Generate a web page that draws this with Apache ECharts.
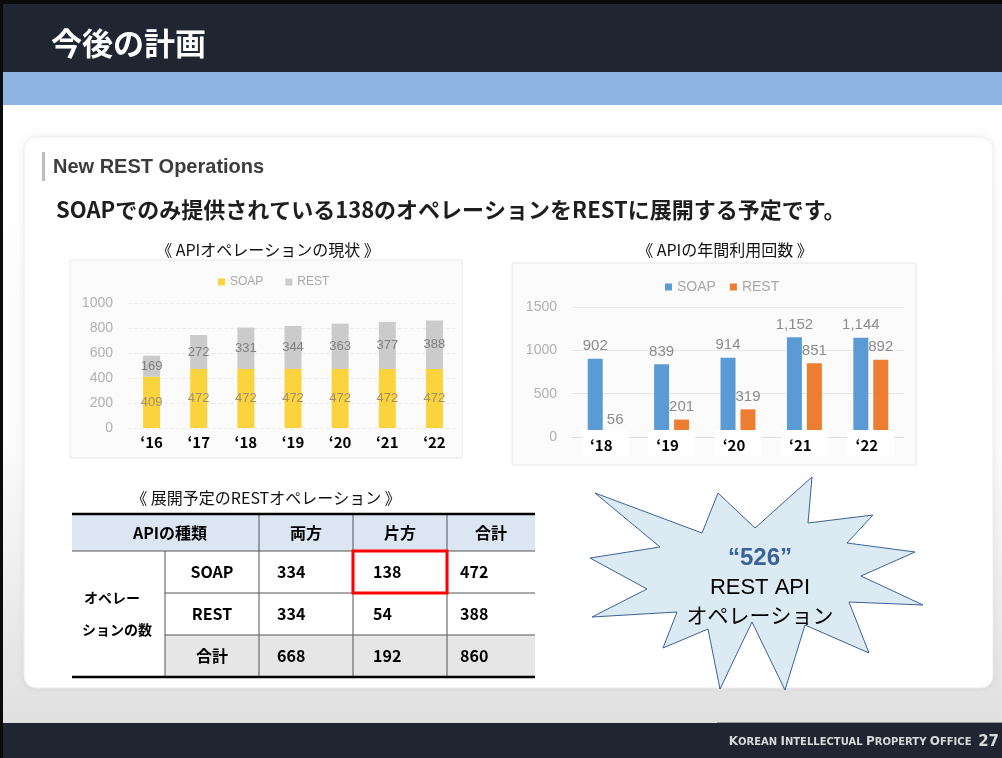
<!DOCTYPE html>
<html><head><meta charset="utf-8">
<script src="https://cdn.jsdelivr.net/npm/echarts@6/dist/echarts.min.js"></script>
<style>html,body{margin:0;padding:0;background:#fff}#c{width:1002px;height:758px}</style>
</head><body><div id="c"></div>
<script>
// ---- data ----
const categories1 = ['‘16','‘17','‘18','‘19','‘20','‘21','‘22'];
const soapOps = [409,472,472,472,472,472,472];
const restOps = [169,272,331,344,363,377,388];
const yTicks1 = {min:0, max:1000, interval:200};

const categories2 = ['‘18','‘19','‘20','‘21','‘22'];
const soapUse = [902,839,914,1152,1144];
const restUse = [56,201,319,851,892];
const yTicks2 = {min:0, max:1500, interval:500};

const tableHeader = ['APIの種類','両方','片方','合計'];
const tableRowLabels = ['SOAP','REST','合計'];
const colBoth = [334,334,668];
const colOne = [138,54,192];
const colTotal = [472,388,860];
const rowGroupLabel = ['オペレー','ションの数'];

const JP = '"Noto Sans CJK JP", "Noto Sans", sans-serif';
const AR = '"Liberation Sans", Arial, sans-serif';

const g = [];
function rect(x,y,w,h,style,z){ g.push({type:'rect', z: z, shape:{x:x,y:y,width:w,height:h}, style:style}); }
function line(x1,y1,x2,y2,stroke,lw,z){ g.push({type:'line', z:z, shape:{x1:x1,y1:y1,x2:x2,y2:y2}, style:{stroke:stroke, lineWidth:lw}}); }
function text(x,y,t,font,fill,align,z,extra){ g.push({type:'text', z:z, x:x, y:y, style:Object.assign({text:t, font:font, fill:fill, textAlign:align||'left', textVerticalAlign:'middle'}, extra||{})}); }

// ---- slide chrome ----
rect(0,0,1002,758,{fill:'#0b0b0b'},-10);
rect(3,4,999,68,{fill:'#1f2531'},-10);
rect(3,72,999,33,{fill:'#8eb4e3'},-10);
rect(3,105,999,618,{fill:new echarts.graphic.LinearGradient(0,0,0,1,[{offset:0,color:'#ffffff'},{offset:0.55,color:'#fbfbfb'},{offset:1,color:'#e0e0e0'}])},-10);
rect(3,723,999,35,{fill:'#1f2531'},-10);
line(717,722.5,1002,722.5,'#9a9a9a',1,-9);
g.push({type:'rect', z:-9, shape:{x:24,y:137,width:969,height:551,r:12}, style:{fill:'#ffffff', stroke:'#eeeeee', lineWidth:1, shadowBlur:6, shadowColor:'rgba(0,0,0,0.06)'}});
text(51,43,'今後の計画','bold 31px '+JP,'#ffffff','left',1);
g.push({type:'text', z:1, x:999, y:742, style:{text:'{b|K}{s|OREAN} {b|I}{s|NTELLECTUAL} {b|P}{s|ROPERTY} {b|O}{s|FFICE}  {n|27}', textAlign:'right', textVerticalAlign:'middle', fill:'#d9d9d9',
  rich:{b:{fontSize:12,fontFamily:'"DejaVu Sans"',fill:'#d9d9d9',fontWeight:'bold'}, s:{fontSize:10,fontFamily:'"DejaVu Sans"',fill:'#d9d9d9',fontWeight:'bold'}, n:{fontSize:15,fontFamily:'"DejaVu Sans"',fill:'#d9d9d9',fontWeight:'bold'}}}});

// heading
rect(42,152,3,29,{fill:'#bdbdbd'},1);
text(53,167,'New REST Operations','bold 20px '+AR,'#3c3c3c','left',1);
text(56,210,'SOAPでのみ提供されている138のオペレーションをRESTに展開する予定です。','bold 22px '+JP,'#1e1e1e','left',1);

// chart titles & chart image backgrounds
text(268,250,'《 APIオペレーションの現状 》','16px '+JP,'#111','center',1);
text(725,250,'《 APIの年間利用回数 》','16px '+JP,'#111','center',1);
rect(70,260,392,198,{fill:'#fbfbfb', stroke:'#e8e8e8', lineWidth:1},-8);
rect(512,263,404,202,{fill:'#fbfbfb', stroke:'#e8e8e8', lineWidth:1},-8);

// ---- table ----
const colX = [72,165,259,353,447,535];
const rowY = [514,551,593,635,677];
text(266,498,'《 展開予定のRESTオペレーション 》','16px '+JP,'#111','center',1);
rect(72,514,463,37,{fill:'#dce6f2'},0);
rect(165,635,370,42,{fill:'#e6e6e6'},0);
line(72,551,535,551,'#555',1,2);
line(165,593,535,593,'#555',1,2);
line(165,635,535,635,'#555',1,2);
line(165,551,165,677,'#555',1,2);
for (let i=2;i<5;i++) line(colX[i],514,colX[i],677,'#555',1,2);
line(72,514,535,514,'#000',2.5,3);
line(72,677,535,677,'#000',2.5,3);
text(170,533,tableHeader[0],'bold 16px '+JP,'#000','center',3);
for (let i=1;i<4;i++) text((colX[i+1]+colX[i+2])/2,533,tableHeader[i],'bold 16px '+JP,'#000','center',3);
const valueLeft = [277,373,460];
const cols = [colBoth,colOne,colTotal];
for (let r=0;r<3;r++){
  const cy = (rowY[r+1]+rowY[r+2])/2;
  text(212,cy,tableRowLabels[r],'bold 16px '+JP,'#000','center',3);
  for (let c=0;c<3;c++) text(valueLeft[c],cy,String(cols[c][r]),'bold 16px '+JP,'#000','left',3);
}
text(84,598,rowGroupLabel[0],'bold 14px '+JP,'#000','left',3);
text(82,630,rowGroupLabel[1],'bold 14px '+JP,'#000','left',3);
rect(353,551,94,42,{fill:'none', stroke:'#ff0000', lineWidth:3},4);

// ---- starburst ----
g.push({type:'polygon', z:5, shape:{points:[[595,493],[702,533],[718,493],[755,528],[812,477],[808,523],[873,515],[847,543],[915,552],[861,576],[923,605],[849,602],[869,653],[805,625],[785,690],[752,622],[720,689],[708,629],[663,648],[677,612],[592,617],[647,589],[590,558],[660,547]]},
  style:{fill:'#dbeaf3', stroke:'#3d6296', lineWidth:1}});
text(760,558,'“526”','bold 24px '+AR,'#3a6198','center',6,{shadowBlur:3, shadowColor:'rgba(0,0,0,0.45)', shadowOffsetX:1, shadowOffsetY:1});
text(760,588,'REST API','22px '+AR,'#000','center',6);
text(760,615,'オペレーション','21px '+JP,'#000','center',6);

const plain = function(v){ return String(v); };
const chart = echarts.init(document.getElementById('c'));
chart.setOption({
  animation:false,
  textStyle:{fontFamily:JP},
  graphic:g,
  legend:[
    {data:['SOAP','REST'], left:213, top:271, itemWidth:7, itemHeight:7, itemGap:22, icon:'rect', selectedMode:false,
     textStyle:{color:'#a8a8a8', fontSize:12, fontFamily:AR}},
    {data:['SOAP_2','REST_2'], left:660, top:275, itemWidth:7, itemHeight:7, itemGap:14, icon:'rect', selectedMode:false,
     formatter:function(n){return n.replace('_2','');}, textStyle:{color:'#a8a8a8', fontSize:14, fontFamily:AR}}
  ],
  grid:[
    {left:128, top:303, width:330, height:125},
    {left:572, top:307, width:332, height:130}
  ],
  xAxis:[
    {type:'category', gridIndex:0, data:categories1, axisLine:{show:false}, axisTick:{show:false},
     axisLabel:{margin:7, color:'#000', fontWeight:'bold', fontSize:15, fontFamily:JP}},
    {type:'category', gridIndex:1, data:categories2, z:10, axisLine:{show:true, lineStyle:{color:'#dddddd'}}, axisTick:{show:false},
     axisLabel:{margin:-7, color:'#000', fontWeight:'bold', fontSize:15, lineHeight:15, fontFamily:JP, backgroundColor:'#ffffff', padding:[8,16,3,8]}}
  ],
  yAxis:[
    {type:'value', gridIndex:0, min:yTicks1.min, max:yTicks1.max, interval:yTicks1.interval,
     axisLabel:{margin:15, color:'#b0b0b0', fontSize:14, fontFamily:AR, formatter:plain}, splitLine:{lineStyle:{color:'#ececec', type:'dashed'}}},
    {type:'value', gridIndex:1, min:yTicks2.min, max:yTicks2.max, interval:yTicks2.interval,
     axisLabel:{margin:15, color:'#b0b0b0', fontSize:14, fontFamily:AR, formatter:plain}, splitLine:{lineStyle:{color:'#e6e6e6'}}}
  ],
  series:[
    {name:'SOAP', type:'bar', stack:'ops', xAxisIndex:0, yAxisIndex:0, data:soapOps, barWidth:17, itemStyle:{color:'#fbd33d'},
     label:{show:true, position:'inside', color:'#a09070', fontSize:13, fontFamily:AR}},
    {name:'REST', type:'bar', stack:'ops', xAxisIndex:0, yAxisIndex:0, data:restOps, barWidth:17, itemStyle:{color:'#cbcbcb'},
     label:{show:true, position:'inside', color:'#808080', fontSize:13, fontFamily:AR}},
    {name:'SOAP_2', type:'bar', xAxisIndex:1, yAxisIndex:1, data:soapUse, barWidth:15, barGap:'33%', itemStyle:{color:'#5b9bd5'},
     label:{show:true, position:'top', distance:5, color:'#8c8c8c', fontSize:15, fontFamily:AR, formatter:function(p){return p.value.toLocaleString('en-US');}}},
    {name:'REST_2', type:'bar', xAxisIndex:1, yAxisIndex:1, data:restUse, barWidth:15, barGap:'33%', itemStyle:{color:'#ed7d31'},
     label:{show:true, position:'top', distance:5, color:'#8c8c8c', fontSize:15, fontFamily:AR, formatter:function(p){return p.value.toLocaleString('en-US');}}}
  ]
});
</script></body></html>
